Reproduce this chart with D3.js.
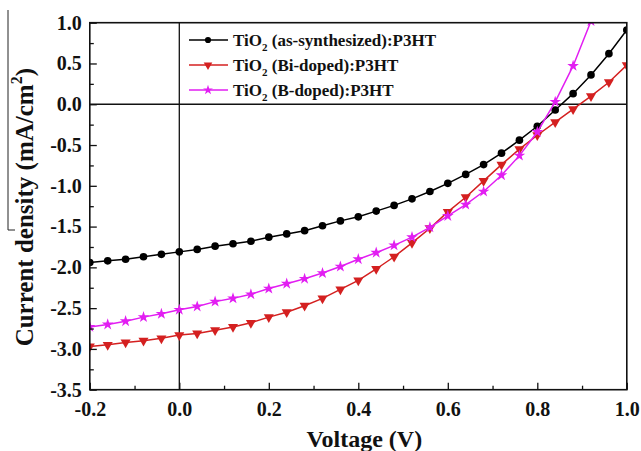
<!DOCTYPE html>
<html>
<head>
<meta charset="utf-8">
<script src="https://cdn.jsdelivr.net/npm/d3@7"></script>
<style>
  body { margin: 0; background: #fff; }
  svg text { font-family: "Liberation Serif", "Times New Roman", serif; font-weight: bold; fill: #111; }
</style>
</head>
<body>
<div class="jv-page"></div>
<script>
// J-V data (V, mA/cm2)
const voltage = [-0.20, -0.16, -0.12, -0.08, -0.04, 0.00, 0.04, 0.08, 0.12, 0.16,
                 0.20, 0.24, 0.28, 0.32, 0.36, 0.40, 0.44, 0.48, 0.52, 0.56,
                 0.60, 0.64, 0.68, 0.72, 0.76, 0.80, 0.84, 0.88, 0.92, 0.96, 1.00];
const asSynth = [-1.94, -1.92, -1.90, -1.87, -1.84, -1.81, -1.78, -1.74, -1.71, -1.68,
                 -1.63, -1.59, -1.55, -1.49, -1.43, -1.38, -1.31, -1.24, -1.16, -1.07,
                 -0.97, -0.86, -0.74, -0.60, -0.44, -0.27, -0.07, 0.13, 0.36, 0.62, 0.91];
const biDoped = [-2.97, -2.95, -2.92, -2.90, -2.87, -2.83, -2.81, -2.77, -2.73, -2.68,
                 -2.61, -2.55, -2.47, -2.38, -2.27, -2.16, -2.02, -1.87, -1.70, -1.52,
                 -1.32, -1.14, -0.94, -0.74, -0.55, -0.38, -0.22, -0.06, 0.10, 0.27, 0.48];
const bDoped  = [-2.73, -2.70, -2.66, -2.61, -2.57, -2.52, -2.48, -2.42, -2.38, -2.33,
                 -2.26, -2.20, -2.14, -2.07, -1.99, -1.90, -1.82, -1.73, -1.63, -1.51,
                 -1.37, -1.23, -1.07, -0.87, -0.63, -0.34, 0.03, 0.47, 1.02, 1.65];
const seriesNames = ["(as-synthesized):P3HT", "(Bi-doped):P3HT", "(B-doped):P3HT"];
const xTicks = [-0.2, 0.0, 0.2, 0.4, 0.6, 0.8, 1.0];
const yTicks = [1.0, 0.5, 0.0, -0.5, -1.0, -1.5, -2.0, -2.5, -3.0, -3.5];

let width = 641, height = 451;
let margin = {left: 89.8, right: 14.2, top: 22.7, bottom: 61.3};

let svg = d3.select(".jv-page")
  .append("svg")
  .attr("width", width)
  .attr("height", height);

let x = d3.scaleLinear().domain([-0.2, 1.0]).range([margin.left, width - margin.right]);
let y = d3.scaleLinear().domain([-3.5, 1.0]).range([height - margin.bottom, margin.top]);

let series = [
  {name: seriesNames[0], values: asSynth, color: "#000000", shape: "circle"},
  {name: seriesNames[1], values: biDoped, color: "#d42020", shape: "triangle"},
  {name: seriesNames[2], values: bDoped, color: "#e21ef2", shape: "star"}
];

function symbolPath(shape, big) {
  if (shape == "circle") return d3.symbol().type(d3.symbolCircle).size(big ? 46 : 30)();
  if (shape == "triangle") return d3.symbol().type(d3.symbolTriangle).size(big ? 44 : 32)();
  return d3.symbol().type(d3.symbolStar).size(big ? 42 : 30)();
}

svg.append("clipPath").attr("id", "plot-clip")
  .append("rect")
  .attr("x", x(-0.2)).attr("y", y(1.0))
  .attr("width", x(1.0) - x(-0.2)).attr("height", y(-3.5) - y(1.0));

// zero lines
svg.append("line")
  .attr("x1", x(0)).attr("x2", x(0)).attr("y1", y(1.0)).attr("y2", y(-3.5))
  .attr("stroke", "#111").attr("stroke-width", 1.3);
svg.append("line")
  .attr("x1", x(-0.2)).attr("x2", x(1.0)).attr("y1", y(0)).attr("y2", y(0))
  .attr("stroke", "#111").attr("stroke-width", 1.3);

// curves
let plot = svg.append("g").attr("clip-path", "url(#plot-clip)");
let line = d3.line().x(function(d) { return x(d[0]); }).y(function(d) { return y(d[1]); });

series.forEach(function(s) {
  let pts = s.values.map(function(v, i) { return [voltage[i], v]; });
  plot.append("path")
    .datum(pts)
    .attr("fill", "none")
    .attr("stroke", s.color)
    .attr("stroke-width", 1.5)
    .attr("d", line);
  plot.selectAll(null)
    .data(pts)
    .enter()
    .append("path")
    .attr("d", symbolPath(s.shape, true))
    .attr("transform", function(d) {
      return "translate(" + x(d[0]) + "," + y(d[1]) + ")" + (s.shape == "triangle" ? " rotate(180)" : "");
    })
    .attr("fill", s.color);
});

// axes: major + minor ticks pointing inward
svg.append("g")
  .attr("transform", "translate(0," + y(-3.5) + ")")
  .call(d3.axisBottom(x).tickValues(xTicks).tickSize(-7).tickPadding(12).tickFormat(d3.format(".1f")));
svg.append("g")
  .attr("transform", "translate(0," + y(-3.5) + ")")
  .call(d3.axisBottom(x).tickValues([-0.1, 0.1, 0.3, 0.5, 0.7, 0.9]).tickSize(-4).tickFormat(""));
svg.append("g")
  .attr("transform", "translate(" + x(-0.2) + ",0)")
  .call(d3.axisLeft(y).tickValues(yTicks).tickSize(-7).tickPadding(8).tickFormat(d3.format(".1f")));
svg.append("g")
  .attr("transform", "translate(" + x(-0.2) + ",0)")
  .call(d3.axisLeft(y).tickValues([0.75, 0.25, -0.25, -0.75, -1.25, -1.75, -2.25, -2.75, -3.25]).tickSize(-4).tickFormat(""));

svg.selectAll(".domain").remove();
svg.selectAll(".tick line").attr("stroke", "#111").attr("stroke-width", 1.3);
svg.selectAll(".tick text")
  .style("font-family", "'Liberation Serif', 'Times New Roman', serif")
  .style("font-weight", "bold")
  .style("font-size", "20px")
  .attr("fill", "#111")
  .text(function() { return this.textContent.replace("\u2212", "-"); });

// frame
svg.append("rect")
  .attr("x", x(-0.2)).attr("y", y(1.0))
  .attr("width", x(1.0) - x(-0.2)).attr("height", y(-3.5) - y(1.0))
  .attr("fill", "none").attr("stroke", "#111").attr("stroke-width", 1.6);

// legend
let legend = svg.append("g");
series.forEach(function(s, i) {
  let ly = 40 + i * 25;
  legend.append("line")
    .attr("x1", 189).attr("x2", 228).attr("y1", ly).attr("y2", ly)
    .attr("stroke", s.color).attr("stroke-width", 1.5);
  legend.append("path")
    .attr("d", symbolPath(s.shape, false))
    .attr("transform", "translate(208," + ly + ")" + (s.shape == "triangle" ? " rotate(180)" : ""))
    .attr("fill", s.color);
  let t = legend.append("text")
    .attr("x", 233).attr("y", ly + 6)
    .style("font-size", "17px");
  t.append("tspan").text("TiO");
  t.append("tspan").attr("dy", 5).style("font-size", "11px").text("2");
  t.append("tspan").attr("dy", -5).text(" " + s.name);
});

// axis titles
svg.append("text")
  .attr("x", (x(-0.2) + x(1.0)) / 2 + 6)
  .attr("y", 447)
  .attr("text-anchor", "middle")
  .style("font-size", "24px")
  .text("Voltage (V)");

let yt = svg.append("text")
  .attr("transform", "translate(33," + ((y(1.0) + y(-3.5)) / 2 + 1) + ") rotate(-90)")
  .attr("text-anchor", "middle")
  .style("font-size", "25px");
yt.append("tspan").text("Current density (mA/cm");
yt.append("tspan").attr("dy", -11).style("font-size", "16px").text("2");
yt.append("tspan").attr("dy", 11).text(")");

// stray rule at the left edge of the original scan
svg.append("path")
  .attr("d", "M8,10V230H15")
  .attr("fill", "none")
  .attr("stroke", "#222").attr("stroke-width", 1);
</script>
</body>
</html>
